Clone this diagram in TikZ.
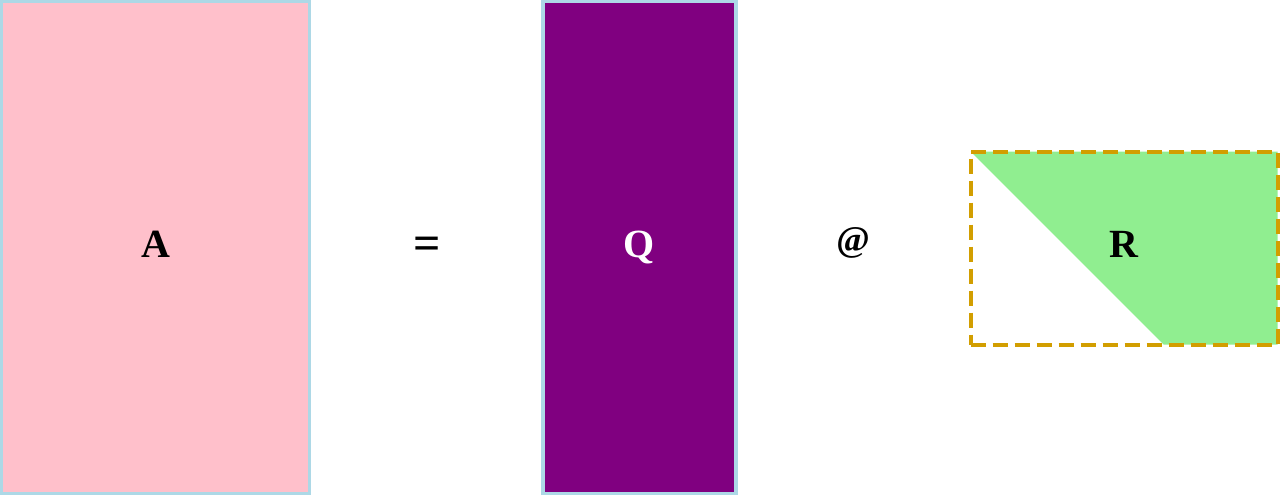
\documentclass[tikz,border=0pt]{standalone}
\usepackage{fontspec}
\setmainfont{Liberation Serif}
\usetikzlibrary{positioning}
\definecolor{boxpink}{RGB}{255,192,203}
\definecolor{boxpurple}{RGB}{128,0,128}
\definecolor{boxgreen}{RGB}{144,238,144}
\definecolor{boxedge}{RGB}{173,216,230}
\definecolor{boxgold}{RGB}{210,158,0}
\tikzset{
  every node/.style={font=\fontsize{40}{46}\selectfont\bfseries},
  matbox/.style={draw=boxedge, line width=3.5pt, inner sep=0pt, text depth=7pt},
  rbox/.style={draw=boxgold, line width=4pt, inner sep=0pt, text depth=8pt,
    dash pattern=on 15pt off 7pt,
    minimum width=307pt, minimum height=193pt,
    path picture={\fill[boxgreen]
      (path picture bounding box.north west)
      -- (path picture bounding box.north east)
      -- (path picture bounding box.south east)
      -- ([xshift=193pt]path picture bounding box.south west) -- cycle;}}
}
\begin{document}
\begin{tikzpicture}[x=1pt, y=1pt]
  \useasboundingbox (0,0) rectangle (1280,-496);
  \node (A) [matbox, fill=boxpink, minimum width=308pt, minimum height=492pt]
    at (155.5,-247.5) {A};
  \node (eq) [font=\fontsize{48}{54}\selectfont\bfseries] at (427,-248) {=};
  \node (Q) [matbox, fill=boxpurple, text=white, minimum width=193pt,
    minimum height=492pt] at (639.5,-247.5) {Q};
  \node (at) [font=\fontsize{36}{42}\selectfont\bfseries] at (853,-243) {@};
  \node (R) [rbox] at (1124,-248) {R};
\end{tikzpicture}
\end{document}
